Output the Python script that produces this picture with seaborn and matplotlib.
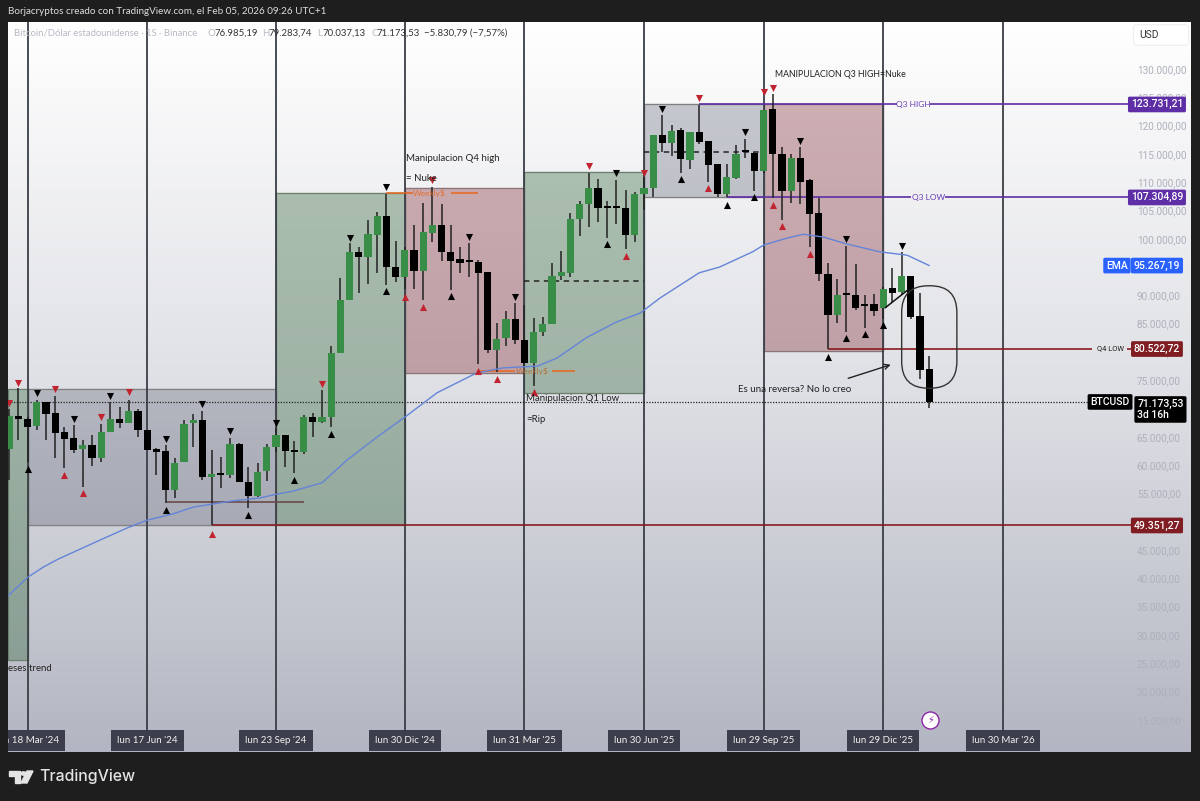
import numpy as np
import pandas as pd
import matplotlib
matplotlib.use("Agg")
import matplotlib.pyplot as plt
import seaborn as sns
from matplotlib.colors import LinearSegmentedColormap
from matplotlib.patches import FancyBboxPatch, Polygon, Rectangle

# weekly candles in thousands of USD, week 0 = 18 Mar '24
first_week = -2
opens = [62.8, 68.7, 68.1, 67.0, 71.1, 69.2, 65.8, 64.8, 62.9, 63.6, 61.2, 65.9, 68.2, 67.4, 69.5, 66.3, 62.9,
         62.5, 55.6, 60.5, 67.4, 67.9, 58.0, 58.4, 58.2, 63.8, 57.0, 54.6, 58.9, 63.3, 65.3, 62.5, 62.3, 68.5,
         67.6, 68.6, 79.8, 89.1, 97.6, 96.7, 100.7, 104.0, 95.1, 93.2, 98.0, 94.3, 101.1, 102.4, 97.6, 96.4,
         96.0, 95.9, 94.1, 80.4, 82.4, 85.8, 82.1, 78.0, 83.5, 84.9, 93.5, 94.0, 103.5, 106.2, 108.9, 105.5,
         105.5, 105.4, 100.7, 108.0, 109.0, 118.3, 117.0, 119.2, 114.0, 118.8, 117.3, 113.2, 108.0, 110.8,
         115.4, 115.1, 112.0, 122.9, 115.0, 108.4, 114.3, 110.4, 104.5, 93.8, 86.5, 90.1, 90.0, 88.2, 88.4,
         87.7, 91.3, 90.6, 93.4, 86.4, 76.985]
closes = [68.7, 68.1, 66.8, 71.1, 69.1, 65.7, 64.7, 62.7, 63.6, 61.2, 65.9, 68.1, 67.4, 69.5, 66.3, 62.7, 62.3,
          55.6, 60.3, 67.3, 68.0, 58.0, 58.5, 58.2, 63.8, 57.1, 54.6, 58.8, 63.2, 65.3, 62.5, 62.4, 68.5, 67.7,
          68.6, 79.8, 89.2, 97.6, 96.7, 100.9, 104.0, 95.0, 93.2, 98.0, 94.3, 101.2, 102.4, 97.6, 96.1, 95.8,
          95.9, 94.0, 80.4, 82.3, 85.8, 82.1, 78.0, 83.5, 84.9, 93.5, 94.1, 103.5, 106.2, 108.9, 105.5, 105.4,
          105.4, 100.7, 108.0, 109.0, 118.4, 117.0, 119.1, 114.1, 118.8, 117.1, 113.0, 108.0, 110.9, 115.0,
          115.3, 112.0, 122.8, 114.9, 108.4, 114.2, 110.1, 104.3, 93.8, 86.5, 90.0, 90.0, 87.8, 88.1, 87.3,
          91.2, 90.5, 93.4, 86.2, 76.8, 71.174]
highs = [69.9, 73.6, 68.5, 71.5, 71.2, 72.3, 66.8, 67.1, 64.5, 65.3, 67.3, 71.1, 70.3, 71.6, 70.0, 66.3, 63.0,
         63.6, 61.2, 67.9, 69.0, 69.6, 62.6, 61.5, 64.8, 64.0, 59.6, 60.3, 63.8, 66.5, 65.3, 64.3, 68.9, 69.2,
         73.3, 81.0, 93.0, 99.2, 98.6, 103.4, 104.7, 108.0, 99.6, 98.6, 102.4, 106.4, 109.2, 106.2, 102.4, 98.6,
         99.2, 96.3, 94.1, 85.2, 87.3, 88.7, 88.3, 86.0, 86.2, 95.7, 97.9, 104.5, 106.6, 111.7, 110.5, 106.6,
         110.4, 108.7, 108.2, 111.0, 118.4, 121.9, 120.1, 119.5, 118.9, 123.6, 117.3, 113.3, 113.3, 116.6,
         117.7, 115.4, 122.8, 125.6, 116.2, 115.0, 116.2, 110.5, 107.2, 95.7, 92.9, 98.7, 95.5, 90.1, 90.2,
         91.4, 94.8, 97.6, 93.4, 90.4, 79.284]
lows = [57.3, 64.5, 60.6, 66.3, 64.5, 61.3, 59.5, 62.2, 56.2, 59.9, 60.6, 65.9, 66.5, 67.4, 64.9, 62.7, 58.3,
        53.3, 54.2, 60.5, 63.3, 57.3, 49.351, 56.0, 57.7, 57.1, 52.5, 54.4, 57.2, 62.4, 59.6, 58.6, 62.0, 64.9,
        67.4, 66.8, 79.8, 89.1, 90.5, 92.0, 94.0, 91.8, 92.3, 91.1, 91.1, 89.2, 99.5, 96.1, 91.0, 93.9,
        93.2, 77.9, 79.8, 76.5, 81.0, 81.4, 77.4, 74.0, 82.9, 84.9, 92.7, 93.2, 100.5, 102.0, 103.0, 100.1,
        102.6, 98.2, 99.5, 105.0, 107.3, 115.4, 114.6, 111.7, 112.4, 116.7, 110.1, 107.3, 107.3, 110.5,
        114.2, 108.5, 111.6, 107.2, 103.4, 106.3, 106.2, 98.5, 92.6, 80.523, 85.1, 83.6, 87.5, 84.2, 86.4,
        85.8, 88.9, 90.0, 85.9, 75.3, 70.037]

ema_weeks = [-2.14, 0, 1.7, 3.3, 7.9, 10.8, 13, 15.8, 18, 22.3, 25.2, 27.1, 28.8, 32, 34.7, 38, 41, 44.5, 48.8,
             51.7, 55.4, 57.5, 60.8, 64, 66.6, 68.7, 70.9, 73, 75.2, 78.8, 80, 82.5, 84.3, 86.5, 89, 92.6, 95.6, 98]
ema_values = [36.9, 40.2, 42.0, 43.4, 46.8, 48.9, 50.3, 51.4, 52.6, 53.7, 54.2, 54.9, 55.4, 56.9, 60.9, 65.0, 68.5,
              72.8, 76.3, 77.2, 77.5, 78.9, 82.6, 85.3, 86.9, 89.5, 91.8, 94.0, 95.0, 97.7, 98.9, 100.1, 100.8,
              100.3, 99.1, 97.7, 97.1, 95.27]

red_down = [(-2, 71.0), (-1, 74.6), (3, 73.4), (8, 68.5), (11, 72.9), (32, 74.4), (44, 110.3), (61, 112.9),
            (67, 111.6), (73, 124.8), (80, 125.9), (81, 126.7)]
black_down = [(1, 72.7), (5, 68.2), (9, 72.2), (15, 64.7), (19, 70.8), (22, 66.0), (27, 67.4), (35, 100.2),
              (39, 109.2), (48, 100.4), (53, 89.8), (64, 111.6), (69, 123.0), (78, 118.8), (84, 117.3),
              (89, 99.9), (95, 98.8)]
black_up = [(0, 59.4), (15, 52.0), (24, 51.2), (29, 57.4), (33, 65.5), (39, 90.7), (46, 89.9), (63, 99.0),
            (71, 110.6), (76, 106.0), (79, 107.3), (87, 79.2), (89, 82.4), (91, 83.1), (93, 84.7)]
red_up = [(4, 58.2), (6, 55.0), (20, 47.8), (41, 89.8), (43, 88.0), (49, 76.7), (51, 75.2), (55, 72.9),
          (65, 97.0), (74, 108.9), (81, 106.0), (82, 102.3), (85, 97.3)]

quarter_weeks = [0, 13, 27, 41, 54, 67, 80, 93, 106]
quarter_labels = ["lun 18 Mar '24", "lun 17 Jun '24", "lun 23 Sep '24", "lun 30 Dic '24", "lun 31 Mar '25",
                  "lun 30 Jun '25", "lun 29 Sep '25", "lun 29 Dic '25", "lun 30 Mar '26"]

# zones: week start, week end, low, high
green_zones = [(-2.14, 0, 25.6, 73.5), (27, 41, 49.35, 108.1), (54, 67, 72.8, 111.8)]
red_zones = [(41, 54, 76.3, 109.0), (80, 93, 80.2, 123.73)]
grey_zones = [(0, 27, 49.35, 73.5), (67, 80, 107.3, 123.73)]

q3_high = 123.73121
q3_low = 107.30489
q4_low = 80.52272
low_line = 49.35127
last_price = 71.17353
ema_last = 95.26719
axis_prices = list(range(15, 135, 5))


def money(v):
    return f"{v * 1000:,.2f}".replace(",", "#").replace(".", ",").replace("#", ".")


sns.set_theme(style="white")
plt.rcParams["font.family"] = ["Lato", "DejaVu Sans"]

fig = plt.figure(figsize=(12, 8.01), dpi=100, facecolor="#1e1e1e")
ax = fig.add_axes([8 / 1200, 1 - 752 / 801, 1183 / 1200, 730 / 801])
ax.set_xlim(-2.14, 126.45)
ax.set_ylim(9.33, 138.3)

bg = LinearSegmentedColormap.from_list("bg", ["#b3b6c2", "#dfe0e5", "#ffffff"])
ax.imshow(np.linspace(0, 1, 256).reshape(-1, 1), aspect="auto", cmap=bg, origin="lower",
          extent=(-2.14, 126.45, 9.33, 138.3), zorder=0)

for zones, color, alpha, edge in [(green_zones, "#2f6437", 0.36, "#6b7f6e"),
                                  (red_zones, "#842f39", 0.37, "#8a7478"),
                                  (grey_zones, "#50556a", 0.3, "#808080")]:
    for x0, x1, y0, y1 in zones:
        ax.add_patch(Rectangle((x0, y0), x1 - x0, y1 - y0, facecolor=color, alpha=alpha, zorder=1))
        ax.add_patch(Rectangle((x0, y0), x1 - x0, y1 - y0, fill=False, edgecolor=edge, lw=1, zorder=1.1))

ax.vlines(quarter_weeks, 13.0, 138.3, color="#3a3f46", lw=1.3, zorder=1.5)

# level lines
line_end = 119.9
ax.hlines(q3_high, 73, 94.5, color="#5e2ea6", lw=1.2, zorder=2)
ax.hlines(q3_high, 98.1, line_end, color="#5e2ea6", lw=1.2, zorder=2)
ax.hlines(q3_low, 76, 96, color="#5e2ea6", lw=1.2, zorder=2)
ax.hlines(q3_low, 99.7, line_end, color="#5e2ea6", lw=1.2, zorder=2)
ax.hlines(q4_low, 87, 115.7, color="#8b1a1f", lw=1.2, zorder=2)
ax.hlines(q4_low, 119.5, line_end, color="#8b1a1f", lw=1.2, zorder=2)
ax.hlines(low_line, 20, line_end, color="#8b1a1f", lw=1.2, zorder=2)
ax.hlines(last_price, -2.14, 115.5, color="#222222", lw=0.9, linestyles=(0, (1, 1.2)), zorder=2)
ax.hlines(53.5, 15, 30, color="#6b4a4a", lw=1.2, zorder=2)
ax.hlines(92.5, 54, 67, color="#222222", lw=1.1, linestyles=(0, (3.5, 3)), zorder=2)
ax.hlines(115.4, 67, 80, color="#222222", lw=1.1, linestyles=(0, (3.5, 3)), zorder=2)
for a, b, price in [(39, 41.9, 108.1), (46, 49, 108.1), (49, 53, 76.6), (57, 59.5, 76.6)]:
    ax.hlines(price, a, b, color="#e8681c", lw=1.1, zorder=2)

# candles
weeks = np.arange(first_week, first_week + len(opens))
candles = pd.DataFrame({"week": weeks, "open": opens, "high": highs, "low": lows, "close": closes})
up = candles["close"] >= candles["open"]
ax.vlines(candles["week"], candles["low"], candles["high"], color="#222222", lw=1.1, zorder=3)
body_low = candles[["open", "close"]].min(axis=1)
body_size = (candles["close"] - candles["open"]).abs().clip(lower=0.35)
ax.bar(candles["week"], body_size, bottom=body_low, width=0.78,
       color=np.where(up, "#388e46", "#000000"), linewidth=0, zorder=3.2)

sns.lineplot(x=ema_weeks, y=ema_values, ax=ax, color="#6484d8", lw=1.0, sort=False, estimator=None, zorder=3.5)

for points, marker, color in [(red_down, "v", "#c1242f"), (black_down, "v", "#000000"),
                              (black_up, "^", "#000000"), (red_up, "^", "#c1242f")]:
    pts = pd.DataFrame(points, columns=["week", "price"])
    sns.scatterplot(data=pts, x="week", y="price", ax=ax, marker=marker, color=color, s=26,
                    linewidth=0, zorder=4, clip_on=True)

# drawings
ax.plot([93.2, 95.7], [87.8, 91.0], color="#111111", lw=1.1, zorder=4)
ax.add_patch(FancyBboxPatch((95.0, 73.6), 6.0, 18.1, boxstyle="round,pad=0,rounding_size=2.9",
                            mutation_aspect=1.625, fill=False, edgecolor="#333333", lw=1.0, zorder=4))
ax.annotate("", xy=(94.1, 77.9), xytext=(88.9, 75.2),
            arrowprops=dict(arrowstyle="->", color="#222222", lw=1, mutation_scale=9), zorder=4)

note = dict(color="#222222", fontsize=6.9, va="center", ha="left", zorder=5)
ax.text(41.1, 114.1, "Manipulacion Q4 high", **note)
ax.text(41.1, 110.7, "= Nuke", **note)
ax.text(54.2, 71.7, "Manipulacion Q1 Low", **note)
ax.text(54.2, 68.0, "=Rip", **note)
ax.text(81.2, 129.1, "MANIPULACION Q3 HIGH=Nuke", color="#222222", fontsize=6.3, va="center", ha="left", zorder=5)
ax.text(77.2, 73.3, "Es una reversa? No lo creo", color="#222222", fontsize=7.0, va="center", ha="left", zorder=5)
ax.text(-2.1, 24.0, "eses trend", **note)

small = dict(fontsize=6.0, ha="center", va="center", zorder=5)
ax.text(96.3, q3_high, "Q3 HIGH", color="#6a3fb5", **small)
ax.text(97.9, q3_low, "Q3 LOW", color="#6a3fb5", **small)
ax.text(117.75, q4_low, "Q4 LOW", color="#222222", fontsize=5.4, ha="center", va="center", family="Roboto", zorder=5)
ax.text(43.7, 108.1, "Weekly$", color="#e8681c", alpha=0.85, **small)
ax.text(54.8, 76.6, "Weekly$", color="#b5682c", alpha=0.85, **small)

# price scale
ax.yaxis.tick_right()
ax.set_yticks(axis_prices)
ax.set_yticklabels([money(p) for p in axis_prices], fontsize=7.2, color="#adb0bb", family="Roboto")
ax.tick_params(axis="y", length=0, pad=-39)
ax.set_xticks([])
ax.set_xlabel("")
ax.set_ylabel("")
for side in ax.spines.values():
    side.set_visible(False)

tag_font = dict(color="white", fontsize=7.5, va="center", family="Roboto", fontweight="medium", zorder=6)
tag_x = 122.75
for price, color in [(q3_high, "#5e2ea6"), (q3_low, "#5e2ea6"), (ema_last, "#2962ff"), (q4_low, "#7f1d22"),
                     (low_line, "#7f1d22")]:
    ax.text(tag_x, price, money(price), ha="center", **tag_font,
            bbox=dict(boxstyle="round,pad=0.27,rounding_size=0.15", facecolor=color, edgecolor="none"))
ax.text(118.4, ema_last, "EMA", ha="center", **tag_font,
        bbox=dict(boxstyle="round,pad=0.27,rounding_size=0.15", facecolor="#2962ff", edgecolor="none"))
ax.text(117.65, last_price, "BTCUSD", ha="center", **tag_font,
        bbox=dict(boxstyle="round,pad=0.27,rounding_size=0.15", facecolor="#000000", edgecolor="none"))
ax.text(120.6, 69.84, money(last_price) + "\n3d 16h", ha="left", multialignment="left", linespacing=1.1, **tag_font,
        bbox=dict(boxstyle="round,pad=0.27,rounding_size=0.15", facecolor="#000000", edgecolor="none"))
ax.add_patch(FancyBboxPatch((120.2, 134.2), 6.0, 3.6, boxstyle="round,pad=0,rounding_size=0.4", mutation_aspect=1.6,
                            facecolor="#ffffff", edgecolor="#eeeeee", lw=0.8, zorder=5.5))
ax.text(121.9, 136.0, "USD", color="#333333", fontsize=7.4, ha="center", va="center", family="Roboto", zorder=6)

# time scale labels
for wk, lab in zip(quarter_weeks, quarter_labels):
    ax.text(wk, 11.36, lab, color="#f0f0f0", fontsize=7.0, ha="center", va="center", zorder=6,
            clip_on=True, bbox=dict(boxstyle="square,pad=0.62", facecolor="#3c3f4b", edgecolor="none"))

# lightning badge
sns.scatterplot(x=[98.1], y=[15.0], ax=ax, s=150, color="white", edgecolor="#8e24aa", linewidth=1, zorder=6)
ax.text(98.1, 15.0, "\u26a1", color="#8e24aa", fontsize=7, ha="center", va="center", family="DejaVu Sans", zorder=7)


def fig_text(x, y, s, **kw):
    fig.text(x / 1200, 1 - y / 801, s, va="center", ha="left", **kw)


fig_text(8, 12, "Borjacryptos creado con TradingView.com, el Feb 05, 2026 09:26 UTC+1", color="#dddddd", fontsize=7.1)
grey_head = "#b7bac4"
fig_text(14, 33, "Bitcoin/D\u00f3lar estadounidense \u00b7 1S \u00b7 Binance", color=grey_head, fontsize=6.8, zorder=7)
for x_l, x_v, letter, value in [(208, 214, "O", "76.985,19"), (262, 268, "H", "79.283,74"),
                                (317, 322, "L", "70.037,13"), (371, 376, "C", "71.173,53")]:
    fig_text(x_l, 33, letter, color=grey_head, fontsize=6.9, zorder=7)
    fig_text(x_v, 33, value, color="#333333", fontsize=6.9, zorder=7)
fig_text(424, 33, "\u22125.830,79 (\u22127,57%)", color="#333333", fontsize=6.9, zorder=7)

# footer logo
logo_color = "#e4e4e4"
fig.add_artist(Polygon([(9 / 1200, 1 - 771 / 801), (20 / 1200, 1 - 771 / 801), (20 / 1200, 1 - 783 / 801),
                        (15 / 1200, 1 - 783 / 801), (15 / 1200, 1 - 776 / 801), (9 / 1200, 1 - 776 / 801)],
                       closed=True, transform=fig.transFigure, color=logo_color))
fig.add_artist(plt.Circle((23.5 / 1200, 1 - 773.5 / 801), 0.0021, transform=fig.transFigure, color=logo_color))
fig.add_artist(Polygon([(27 / 1200, 1 - 771 / 801), (33 / 1200, 1 - 771 / 801), (27 / 1200, 1 - 783 / 801),
                        (21 / 1200, 1 - 783 / 801)], closed=True, transform=fig.transFigure, color=logo_color))
fig_text(39, 777, "TradingView", color=logo_color, fontsize=11.4, family="Inter", fontweight="medium")

fig.savefig("out.png", dpi=100, facecolor=fig.get_facecolor())
